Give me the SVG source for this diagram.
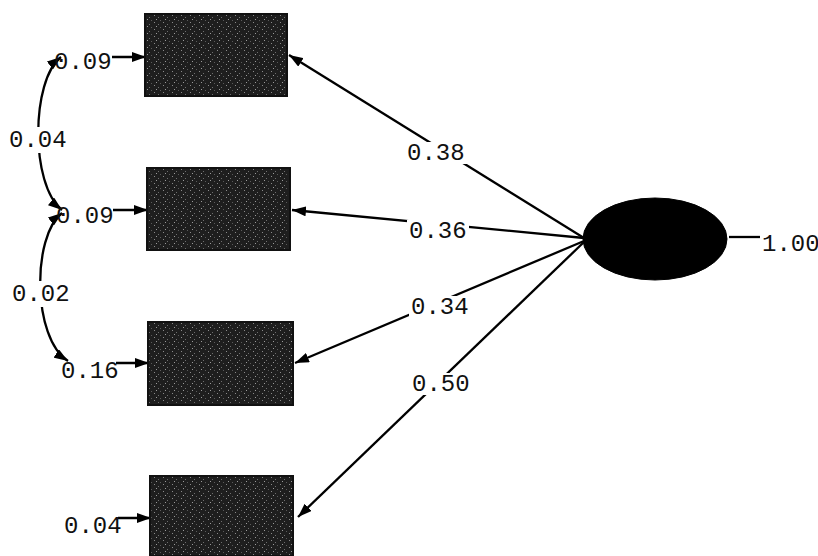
<svg xmlns="http://www.w3.org/2000/svg" width="818" height="556" viewBox="0 0 818 556">
<style>
.box{fill:url(#grain);stroke:#111;stroke-width:2}
.lat{fill:#000;stroke:#000;stroke-width:1}
.edge{stroke:#000;stroke-width:2.3;fill:none}
.lbl{font-family:"Liberation Mono","DejaVu Sans Mono",monospace;font-size:24px;fill:#111}
.bg{fill:#fff}
</style>
<defs>
<pattern id="grain" width="9" height="7" patternUnits="userSpaceOnUse">
<rect width="9" height="7" fill="#1e1e1e"/>
<rect x="1" y="1" width="1" height="1" fill="#8a8a8a"/>
<rect x="5" y="3" width="1" height="1" fill="#6e6e6e"/>
<rect x="3" y="5" width="1" height="1" fill="#9a9a9a"/>
<rect x="7" y="6" width="1" height="1" fill="#5a5a5a"/>
</pattern>
<marker id="ah" viewBox="0 0 14 10" refX="14" refY="5" markerWidth="14" markerHeight="10" markerUnits="userSpaceOnUse" orient="auto-start-reverse">
<path d="M0,0 L14,5 L0,10 Z" fill="#000"/>
</marker>
</defs>

<g id="connectors">
<line class="edge" x1="584" y1="238" x2="289" y2="55" marker-end="url(#ah)"/>
<line class="edge" x1="584" y1="238" x2="292" y2="210" marker-end="url(#ah)"/>
<line class="edge" x1="584" y1="241" x2="295" y2="363" marker-end="url(#ah)"/>
<line class="edge" x1="584" y1="242" x2="298" y2="517" marker-end="url(#ah)"/>
<line class="edge" x1="112" y1="57" x2="146" y2="57" marker-end="url(#ah)"/>
<line class="edge" x1="113" y1="210" x2="148" y2="210" marker-end="url(#ah)"/>
<line class="edge" x1="116" y1="363" x2="149" y2="363" marker-end="url(#ah)"/>
<line class="edge" x1="118" y1="518" x2="151" y2="518" marker-end="url(#ah)"/>
<line class="edge" x1="729" y1="237" x2="760" y2="237"/>
<path class="edge" d="M61,57 C31,80 30,185 62,210" marker-start="url(#ah)" marker-end="url(#ah)"/>
<path class="edge" d="M62,213 C32,236 32,338 68,361" marker-start="url(#ah)" marker-end="url(#ah)"/>
</g>

<g id="x1"><rect class="box" x="145" y="14" width="142" height="82"/></g>
<g id="x2"><rect class="box" x="147" y="168" width="143" height="82"/></g>
<g id="x3"><rect class="box" x="148" y="322" width="145" height="83"/></g>
<g id="x4"><rect class="box" x="150" y="476" width="143" height="80"/></g>
<g id="latent"><ellipse class="lat" cx="655" cy="239" rx="72" ry="41"/></g>

<g id="labels">
<rect class="bg" x="405" y="142" width="62" height="22"/>
<text class="lbl" x="407" y="160">0.38</text>
<rect class="bg" x="407" y="220" width="62" height="22"/>
<text class="lbl" x="409" y="238">0.36</text>
<rect class="bg" x="409" y="296" width="62" height="22"/>
<text class="lbl" x="411" y="314">0.34</text>
<rect class="bg" x="410" y="373" width="62" height="22"/>
<text class="lbl" x="412" y="391">0.50</text>
<text class="lbl" x="54" y="69">0.09</text>
<text class="lbl" x="56" y="223">0.09</text>
<text class="lbl" x="61" y="378">0.16</text>
<text class="lbl" x="64" y="533">0.04</text>
<rect class="bg" x="7" y="127" width="62" height="26"/>
<text class="lbl" x="9" y="147">0.04</text>
<rect class="bg" x="10" y="281" width="62" height="26"/>
<text class="lbl" x="12" y="301">0.02</text>
<text class="lbl" x="762" y="251">1.00</text>
</g>
</svg>
